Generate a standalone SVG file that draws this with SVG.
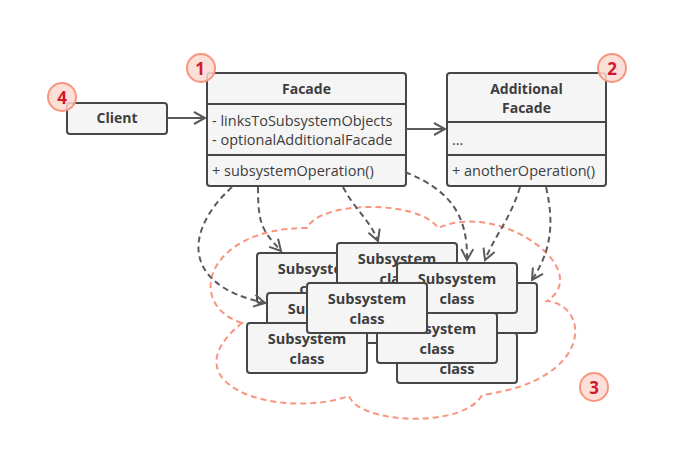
<svg xmlns="http://www.w3.org/2000/svg" width="698" height="456" viewBox="0 0 698 456">
<defs>
<style>
.box{fill:#f5f5f5;stroke:#474747;stroke-width:2}
.ln{stroke:#474747;stroke-width:2}
.t{font-family:"Open Sans","Liberation Sans",sans-serif;font-size:14.5px;fill:#3d3d3d}
.b{font-weight:bold;text-anchor:middle;font-size:14px}
.s{font-size:14.5px}
.conn{fill:none;stroke:#5a5a5a;stroke-width:2}
.dash{stroke-dasharray:6,4}
.cloud{fill:none;stroke:#f8957f;stroke-width:2;stroke-dasharray:6,4}
.badge circle{fill:#fbd9d0;fill-opacity:0.85;stroke:#f8957f;stroke-width:2}
.badge text{font-family:"Open Sans","Liberation Sans",sans-serif;font-size:17px;font-weight:bold;fill:#d2182e;text-anchor:middle}
</style>
<marker id="arr" markerWidth="14" markerHeight="14" refX="12" refY="7" orient="auto" markerUnits="userSpaceOnUse">
<path d="M1,1 L12,7 L1,13" fill="none" stroke="#5a5a5a" stroke-width="2"/>
</marker>
</defs>
<rect width="698" height="456" fill="#ffffff"/>

<path class="cloud" d="M242,323 C185,305 205,228 307,228 C320,200 420,200 438,228 C500,200 595,270 547,301 C590,305 595,380 482,395 C465,428 360,425 349,396 C280,420 165,385 242,323 Z"/>

<g id="sub1"><rect class="box" x="257" y="253" width="120" height="50" rx="3"/><text class="t b s" x="317" y="274">Subsystem</text><text class="t b s" x="317" y="294">class</text></g>
<g id="sub2"><rect class="box" x="337" y="243" width="120" height="50" rx="3"/><text class="t b s" x="397" y="264">Subsystem</text><text class="t b s" x="397" y="284">class</text></g>
<g id="sub3"><rect class="box" x="267" y="293" width="120" height="50" rx="3"/><text class="t b s" x="327" y="314">Subsystem</text><text class="t b s" x="327" y="334">class</text></g>
<g id="sub4"><rect class="box" x="247" y="323" width="120" height="50" rx="3"/><text class="t b s" x="307" y="344">Subsystem</text><text class="t b s" x="307" y="364">class</text></g>
<g id="sub5"><rect class="box" x="417" y="283" width="120" height="50" rx="3"/><text class="t b s" x="477" y="304">Subsystem</text><text class="t b s" x="477" y="324">class</text></g>
<g id="sub6"><rect class="box" x="397" y="263" width="120" height="50" rx="3"/><text class="t b s" x="457" y="284">Subsystem</text><text class="t b s" x="457" y="304">class</text></g>
<g id="sub7"><rect class="box" x="397" y="333" width="120" height="50" rx="3"/><text class="t b s" x="457" y="354">Subsystem</text><text class="t b s" x="457" y="374">class</text></g>
<g id="sub8"><rect class="box" x="377" y="313" width="120" height="50" rx="3"/><text class="t b s" x="437" y="334">Subsystem</text><text class="t b s" x="437" y="354">class</text></g>
<g id="sub9"><rect class="box" x="307" y="283" width="120" height="50" rx="3"/><text class="t b s" x="367" y="304">Subsystem</text><text class="t b s" x="367" y="324">class</text></g>

<g id="client">
<rect class="box" x="67" y="103" width="100" height="31" rx="3"/>
<text class="t b" x="117" y="123">Client</text>
</g>

<g id="facade">
<rect class="box" x="207" y="73" width="199" height="113" rx="3"/>
<line class="ln" x1="207" y1="104" x2="406" y2="104"/>
<line class="ln" x1="207" y1="155" x2="406" y2="155"/>
<text class="t b" x="306.5" y="94">Facade</text>
<text class="t" x="212" y="126">- linksToSubsystemObjects</text>
<text class="t" x="212" y="145">- optionalAdditionalFacade</text>
<text class="t" x="212" y="176">+ subsystemOperation()</text>
</g>

<g id="additional-facade">
<rect class="box" x="447" y="73" width="159" height="113" rx="3"/>
<line class="ln" x1="447" y1="122" x2="606" y2="122"/>
<line class="ln" x1="447" y1="155" x2="606" y2="155"/>
<text class="t b" x="526.5" y="94">Additional</text>
<text class="t b" x="526.5" y="113">Facade</text>
<text class="t" x="452" y="145">...</text>
<text class="t" x="452" y="176">+ anotherOperation()</text>
</g>

<g id="connectors">
<line class="conn" x1="167" y1="118" x2="205" y2="118" marker-end="url(#arr)"/>
<line class="conn" x1="406" y1="129" x2="445" y2="129" marker-end="url(#arr)"/>
<path class="conn dash" d="M232,187 C185,230 180,285 265,303" marker-end="url(#arr)"/>
<path class="conn dash" d="M258,187 C258,225 262,230 281,251" marker-end="url(#arr)"/>
<path class="conn dash" d="M343,187 C355,210 370,220 378,241" marker-end="url(#arr)"/>
<path class="conn dash" d="M405,172 C450,190 468,215 467,260" marker-end="url(#arr)"/>
<path class="conn dash" d="M520,187 C510,220 495,235 485,260" marker-end="url(#arr)"/>
<path class="conn dash" d="M546,187 C556,230 548,255 532,280" marker-end="url(#arr)"/>
</g>

<g id="badge1" class="badge"><circle cx="201" cy="68" r="14"/><text x="200" y="75">1</text></g>
<g id="badge2" class="badge"><circle cx="612" cy="68" r="14"/><text x="612" y="75">2</text></g>
<g id="badge3" class="badge"><circle cx="594" cy="387" r="14"/><text x="594" y="394">3</text></g>
<g id="badge4" class="badge"><circle cx="62" cy="97" r="14"/><text x="62" y="104">4</text></g>
</svg>
